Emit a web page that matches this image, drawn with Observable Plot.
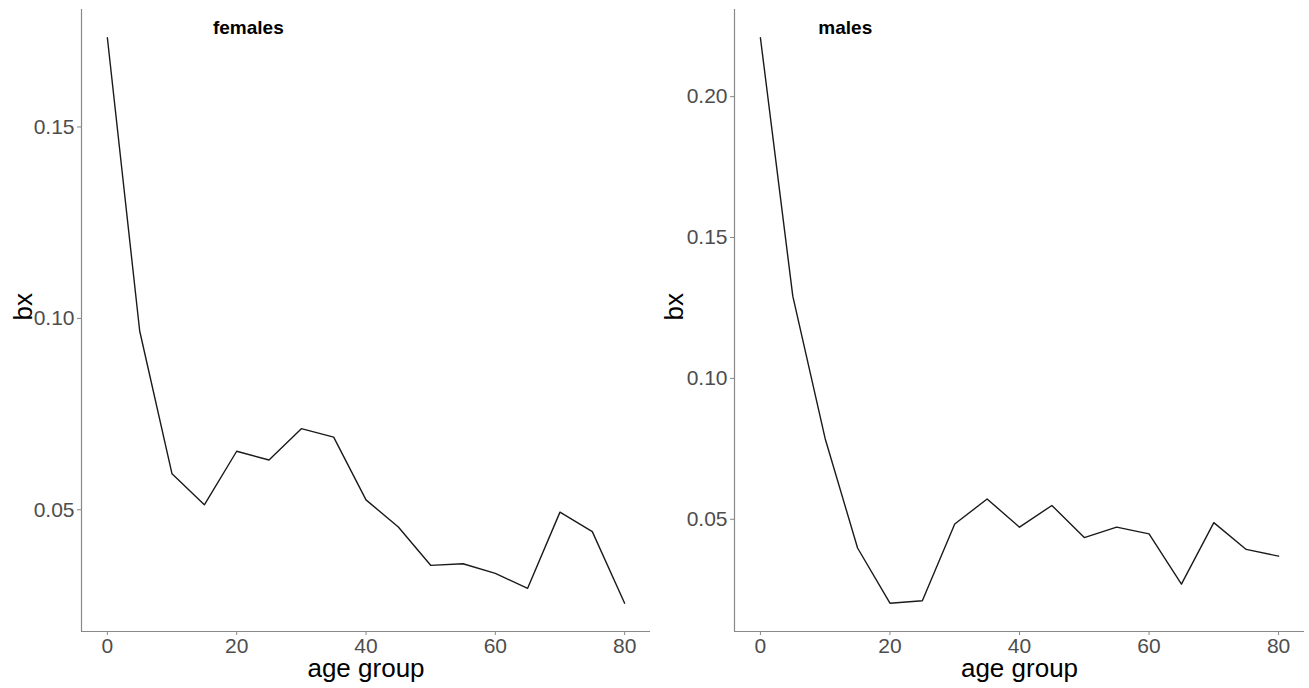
<!DOCTYPE html>
<html>
<head>
<meta charset="utf-8">
<script src="https://cdn.jsdelivr.net/npm/d3@7"></script>
<script src="https://cdn.jsdelivr.net/npm/@observablehq/plot@0.6"></script>
<style>
  html, body { margin: 0; padding: 0; background: #fff; }
  #wrap { display: flex; width: 1309px; height: 688px; }
  svg { font-family: "Liberation Sans", Arial, sans-serif; }
</style>
</head>
<body>
<div id="wrap"></div>
<script>
const ages = [0, 5, 10, 15, 20, 25, 30, 35, 40, 45, 50, 55, 60, 65, 70, 75, 80];
const femalesBx = [0.1733, 0.0967, 0.0594, 0.0513, 0.0653, 0.0630, 0.0712, 0.0690, 0.0526, 0.0455, 0.0355, 0.0359, 0.0334, 0.0295, 0.0494, 0.0443, 0.0256];
const malesBx = [0.2209, 0.1292, 0.0786, 0.0398, 0.0202, 0.0211, 0.0483, 0.0572, 0.0472, 0.0549, 0.0435, 0.0472, 0.0448, 0.0270, 0.0488, 0.0393, 0.0369];
const xTicks = [0, 20, 40, 60, 80];
const femalesYTicks = [0.05, 0.10, 0.15];
const malesYTicks = [0.05, 0.10, 0.15, 0.20];
const panelTitles = ["females", "males"];
const titleAges = [21.8, 13.1];
const titleBx = [0.1759, 0.2244];
const xLabel = "age group";
const yLabel = "bx";

function expand(lo, hi) {
  const e = (hi - lo) * 0.05;
  return [lo - e, hi + e];
}

function panel(values, yTicks, title, tAge, tBx, width, marginLeft) {
  const data = ages.map((a, i) => ({age: a, bx: values[i]}));
  const xDom = expand(d3.min(ages), d3.max(ages));
  const yDom = expand(d3.min(values), d3.max(values));
  return Plot.plot({
    width, height: 688,
    marginLeft, marginRight: 5, marginTop: 9, marginBottom: 57,
    style: {fontFamily: '"Liberation Sans", Arial, sans-serif', background: "#fff"},
    x: {domain: xDom, label: null},
    y: {domain: yDom, label: null},
    marks: [
      Plot.axisX({ticks: xTicks, tickSize: 4, tickPadding: 3, fontSize: 21, color: "#4d4d4d", stroke: "#888", label: null}),
      Plot.axisY({ticks: yTicks, tickSize: 4, tickPadding: 3, tickFormat: d3.format(".2f"), fontSize: 21, color: "#4d4d4d", stroke: "#888", label: null}),
      Plot.ruleY([yDom[0]], {stroke: "#888", strokeWidth: 1.2}),
      Plot.ruleX([xDom[0]], {stroke: "#888", strokeWidth: 1.2}),
      Plot.line(data, {x: "age", y: "bx", stroke: "#1a1a1a", strokeWidth: 1.4}),
      Plot.text([title], {x: () => tAge, y: () => tBx, text: d => d, fontSize: 19, fontWeight: "bold", fill: "#000", lineAnchor: "middle"}),
      Plot.text([xLabel], {frameAnchor: "bottom", dy: 45, lineAnchor: "bottom", fontSize: 26, fill: "#000"}),
      Plot.text([yLabel], {frameAnchor: "left", rotate: -90, dx: marginLeft === 81 ? -50 : -52, lineAnchor: "bottom", fontSize: 26, fill: "#000"})
    ]
  });
}

const wrap = document.getElementById("wrap");
wrap.appendChild(panel(femalesBx, femalesYTicks, panelTitles[0], titleAges[0], titleBx[0], 655, 81));
wrap.appendChild(panel(malesBx, malesYTicks, panelTitles[1], titleAges[1], titleBx[1], 654, 79));
</script>
</body>
</html>
